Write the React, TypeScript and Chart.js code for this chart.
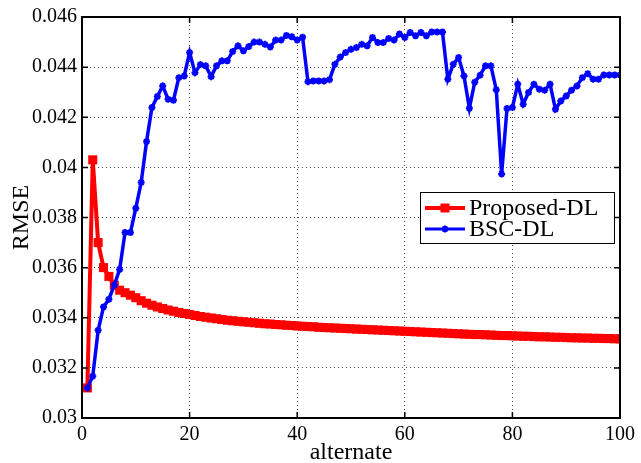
import React, { useEffect, useRef } from "react";
import { Chart, registerables } from "chart.js";

Chart.register(...registerables);

const iterations: number[] = Array.from({ length: 100 }, (_, i) => i + 1);

const seriesNames = ["Proposed-DL", "BSC-DL"];

const proposedDL: number[] = [
  0.0312, 0.0403, 0.037, 0.036, 0.03565, 0.0353, 0.0351, 0.035, 0.0349, 0.0348,
  0.03468, 0.03458, 0.0345, 0.03443, 0.03437, 0.03431, 0.03426, 0.03421, 0.03417, 0.03413,
  0.03409, 0.03405, 0.03402, 0.03399, 0.03396, 0.03393, 0.0339, 0.03388, 0.03386, 0.03384,
  0.03382, 0.0338, 0.03378, 0.03376, 0.03375, 0.03373, 0.03372, 0.0337, 0.03369, 0.03367,
  0.03366, 0.03365, 0.03364, 0.03362, 0.03361, 0.0336, 0.03359, 0.03358, 0.03357, 0.03356,
  0.03355, 0.03354, 0.03353, 0.03352, 0.03351, 0.0335, 0.03349, 0.03348, 0.03347, 0.03346,
  0.03345, 0.03344, 0.03343, 0.03342, 0.03341, 0.0334, 0.03339, 0.03338, 0.03337, 0.03336,
  0.03335, 0.03334, 0.03333, 0.03333, 0.03332, 0.03331, 0.0333, 0.03329, 0.03329, 0.03328,
  0.03327, 0.03326, 0.03326, 0.03325, 0.03324, 0.03324, 0.03323, 0.03322, 0.03322, 0.03321,
  0.0332, 0.0332, 0.03319, 0.03319, 0.03318, 0.03318, 0.03317, 0.03317, 0.03316, 0.03316,
];

const bscDL: number[] = [
  0.0312, 0.03167, 0.0335, 0.03443, 0.03474, 0.0353, 0.03593, 0.0374, 0.0374, 0.03837,
  0.0394, 0.04103, 0.04239, 0.04283, 0.04325, 0.04272, 0.04268, 0.04358, 0.04365, 0.04458,
  0.04378, 0.0441, 0.04405, 0.04362, 0.04405, 0.04425, 0.04425, 0.04462, 0.04485, 0.04465,
  0.04482, 0.045, 0.045, 0.04491, 0.0448, 0.04508, 0.04508, 0.04526, 0.04521, 0.04508,
  0.04519, 0.04342, 0.04345, 0.04345, 0.04345, 0.0435, 0.04411, 0.0444, 0.04458, 0.04471,
  0.04478, 0.04491, 0.04485, 0.04518, 0.04498, 0.04498, 0.04514, 0.04508, 0.04532, 0.04518,
  0.04538, 0.04525, 0.04538, 0.04525, 0.0454, 0.0454, 0.0454, 0.04352, 0.04411, 0.04438,
  0.04365, 0.04236, 0.0434, 0.04368, 0.04405, 0.04405, 0.0431, 0.03974, 0.04235, 0.04239,
  0.04332, 0.04252, 0.04299, 0.04332, 0.04312, 0.04308, 0.04332, 0.04232, 0.04265, 0.04285,
  0.04308, 0.04325, 0.04358, 0.04374, 0.04352, 0.04352, 0.04369, 0.04369, 0.04369, 0.04369,
];

const xTicks = [0, 20, 40, 60, 80, 100];
const xTickLabels = ["0", "20", "40", "60", "80", "100"];
const yTicks = [0.03, 0.032, 0.034, 0.036, 0.038, 0.04, 0.042, 0.044, 0.046];
const yTickLabels = ["0.03", "0.032", "0.034", "0.036", "0.038", "0.04", "0.042", "0.044", "0.046"];

const FONT = "'Liberation Serif', 'Times New Roman', serif";
const RED = "#ff0000";
const BLUE = "#0000ff";

const framePlugin = {
  id: "frame",
  afterDatasetsDraw(chart: any) {
    const { ctx, chartArea: a, scales } = chart;
    ctx.save();
    ctx.strokeStyle = "#000";
    ctx.lineWidth = 2;
    ctx.strokeRect(a.left, a.top, a.right - a.left, a.bottom - a.top);
    ctx.lineWidth = 1.5;
    ctx.beginPath();
    const tl = 6;
    xTicks.forEach((v) => {
      const px = scales.x.getPixelForValue(v);
      ctx.moveTo(px, a.bottom);
      ctx.lineTo(px, a.bottom - tl);
      ctx.moveTo(px, a.top);
      ctx.lineTo(px, a.top + tl);
    });
    yTicks.forEach((v) => {
      const py = scales.y.getPixelForValue(v);
      ctx.moveTo(a.left, py);
      ctx.lineTo(a.left + tl, py);
      ctx.moveTo(a.right, py);
      ctx.lineTo(a.right - tl, py);
    });
    ctx.stroke();
    ctx.restore();
  },
};

const legendPlugin = {
  id: "boxLegend",
  afterDraw(chart: any) {
    const { ctx } = chart;
    const bx = 420.5, by = 192.5, bw = 194, bh = 51;
    ctx.save();
    ctx.fillStyle = "#fff";
    ctx.fillRect(bx, by, bw, bh);
    ctx.strokeStyle = "#000";
    ctx.lineWidth = 1;
    ctx.strokeRect(bx, by, bw, bh);

    const r1 = 208;
    ctx.strokeStyle = RED;
    ctx.lineWidth = 4;
    ctx.beginPath();
    ctx.moveTo(425, r1);
    ctx.lineTo(465, r1);
    ctx.stroke();
    ctx.fillStyle = RED;
    ctx.fillRect(445 - 4.5, r1 - 4.5, 9, 9);

    const r2 = 229;
    ctx.strokeStyle = BLUE;
    ctx.lineWidth = 3;
    ctx.beginPath();
    ctx.moveTo(425, r2);
    ctx.lineTo(465, r2);
    ctx.stroke();
    ctx.lineWidth = 2;
    ctx.beginPath();
    for (let k = 0; k < 4; k++) {
      const ang = (k * Math.PI) / 4;
      ctx.moveTo(445 - Math.cos(ang) * 3.5, r2 - Math.sin(ang) * 3.5);
      ctx.lineTo(445 + Math.cos(ang) * 3.5, r2 + Math.sin(ang) * 3.5);
    }
    ctx.stroke();

    ctx.fillStyle = "#000";
    ctx.font = `24px ${FONT}`;
    ctx.textBaseline = "middle";
    ctx.textAlign = "left";
    ctx.fillText(seriesNames[0], 469, r1 + 1);
    ctx.fillText(seriesNames[1], 469, r2 + 1);
    ctx.restore();
  },
};

export default function App() {
  const canvasRef = useRef<HTMLCanvasElement | null>(null);

  useEffect(() => {
    const canvas = canvasRef.current;
    if (!canvas) return;
    const chart = new Chart(canvas, {
      type: "line",
      data: {
        datasets: [
          {
            label: seriesNames[0],
            data: iterations.map((x, i) => ({ x, y: proposedDL[i] })),
            borderColor: RED,
            backgroundColor: RED,
            borderWidth: 4,
            pointStyle: "rect",
            pointRadius: 6.4,
            pointBorderWidth: 0,
            pointBackgroundColor: RED,
            order: 1,
          },
          {
            label: seriesNames[1],
            data: iterations.map((x, i) => ({ x, y: bscDL[i] })),
            borderColor: BLUE,
            backgroundColor: BLUE,
            borderWidth: 3.5,
            pointStyle: "star",
            pointRadius: 3.5,
            pointBorderWidth: 2,
            pointBorderColor: BLUE,
            order: 0,
          },
        ],
      },
      options: {
        responsive: false,
        animation: false,
        events: [],
        layout: { padding: { left: 0, right: 21, top: 16, bottom: 0 } },
        plugins: {
          legend: { display: false },
          tooltip: { enabled: false },
        },
        scales: {
          x: {
            type: "linear",
            min: 0,
            max: 100,
            afterBuildTicks: (scale: any) => {
              scale.ticks = xTicks.map((v) => ({ value: v }));
            },
            afterFit: (scale: any) => {
              scale.height = 45;
            },
            ticks: {
              color: "#000",
              font: { family: FONT, size: 20 },
              padding: 5,
              maxRotation: 0,
              callback: (v: any) => xTickLabels[xTicks.indexOf(Number(v))] ?? "",
            },
            grid: {
              color: "rgba(0,0,0,0.7)",
              lineWidth: 1,
              drawTicks: false,
            },
            border: { display: false, dash: [1, 3] },
            title: {
              display: true,
              text: "alternate",
              color: "#000",
              font: { family: FONT, size: 24, lineHeight: 0.85 },
              padding: { top: 0, bottom: 0 },
            },
          },
          y: {
            type: "linear",
            min: 0.03,
            max: 0.046,
            afterBuildTicks: (scale: any) => {
              scale.ticks = yTicks.map((v) => ({ value: v }));
            },
            afterFit: (scale: any) => {
              scale.width = 82;
            },
            ticks: {
              color: "#000",
              font: { family: FONT, size: 20 },
              padding: 5,
              callback: (v: any) => {
                const idx = yTicks.findIndex((t) => Math.abs(t - Number(v)) < 1e-9);
                return idx >= 0 ? yTickLabels[idx] : "";
              },
            },
            grid: {
              color: "rgba(0,0,0,0.7)",
              lineWidth: 1,
              drawTicks: false,
            },
            border: { display: false, dash: [1, 3] },
            title: {
              display: true,
              text: "RMSE",
              color: "#000",
              font: { family: FONT, size: 24, lineHeight: 1 },
              padding: { top: 10, bottom: 0 },
            },
          },
        },
      },
      plugins: [framePlugin, legendPlugin],
    });
    return () => chart.destroy();
  }, []);

  return (
    <div style={{ position: "fixed", left: 0, top: 0, width: 641, height: 463, background: "#fff" }}>
      <canvas ref={canvasRef} width={641} height={463} style={{ display: "block" }} />
    </div>
  );
}
